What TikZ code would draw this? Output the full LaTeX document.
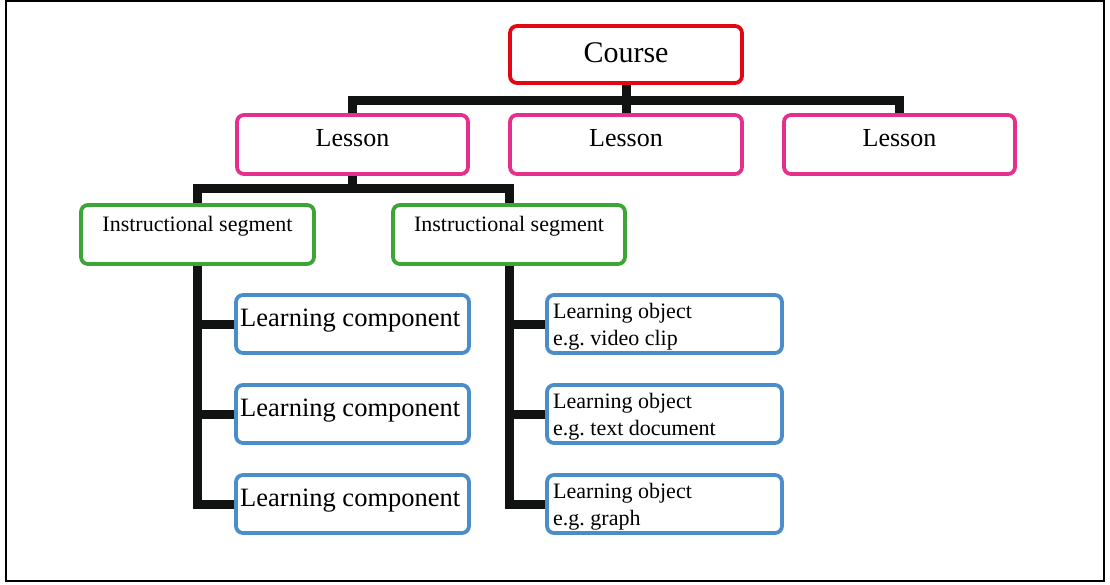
\documentclass[tikz,border=0pt]{standalone}
\usepackage{fontspec}
\setmainfont{Liberation Serif}
\definecolor{coursered}{RGB}{227,6,19}
\definecolor{lessonpink}{RGB}{228,48,140}
\definecolor{seggreen}{RGB}{61,165,53}
\definecolor{compblue}{RGB}{74,141,200}
\definecolor{connblack}{RGB}{17,19,18}
\frenchspacing
\begin{document}
\begin{tikzpicture}[x=1pt,y=-1pt,
  box/.style={rectangle, rounded corners=7pt, line width=3.8pt, fill=white, inner sep=0pt},
  coursebox/.style={box, draw=coursered, minimum width=232pt, minimum height=57pt},
  lessonbox/.style={box, draw=lessonpink, minimum width=231pt, minimum height=59pt},
  segbox/.style={box, draw=seggreen, minimum width=233pt, minimum height=59pt},
  compbox/.style={box, draw=compblue, minimum width=233pt, minimum height=58pt},
  objbox/.style={box, draw=compblue, minimum width=235pt, minimum height=58pt},
  txt/.style={inner sep=0pt, text=black},
  conn/.style={draw=connblack, line width=9pt, line join=miter, line cap=butt}]
\useasboundingbox (0,0) rectangle (1110,585);
\draw[line width=2pt] (6,1.5) rectangle (1104,580.5);

% boxes
\node[coursebox] (course) at (626,54.5) {};
\node[lessonbox] (l1) at (352.5,144.5) {};
\node[lessonbox, minimum width=232pt] (l2) at (626,144.5) {};
\node[lessonbox] (l3) at (899.5,144.5) {};
\node[segbox] (is1) at (197.5,234.5) {};
\node[segbox, minimum width=232pt] (is2) at (509,234.5) {};
\node[compbox] (lc1) at (352.5,324) {};
\node[compbox] (lc2) at (352.5,414) {};
\node[compbox] (lc3) at (352.5,504) {};
\node[objbox] (lo1) at (664.5,324) {};
\node[objbox] (lo2) at (664.5,414) {};
\node[objbox] (lo3) at (664.5,504) {};

% texts
\node[txt, anchor=base, font=\fontsize{30}{36}\selectfont] (tcourse) at (626,63) {Course};
\node[txt, anchor=base, font=\fontsize{26}{32}\selectfont] (tl1) at (352.5,147) {Lesson};
\node[txt, anchor=base, font=\fontsize{26}{32}\selectfont] (tl2) at (626,147) {Lesson};
\node[txt, anchor=base, font=\fontsize{26}{32}\selectfont] (tl3) at (899.5,147) {Lesson};
\node[txt, anchor=base, font=\fontsize{22}{27}\selectfont] (tis1) at (197.5,232) {Instructional segment};
\node[txt, anchor=base, font=\fontsize{22}{27}\selectfont] (tis2) at (509,232) {Instructional segment};
\node[txt, anchor=base west, font=\fontsize{26.5}{32}\selectfont] (tlc1) at (240,326) {Learning component};
\node[txt, anchor=base west, font=\fontsize{26.5}{32}\selectfont] (tlc2) at (240,416) {Learning component};
\node[txt, anchor=base west, font=\fontsize{26.5}{32}\selectfont] (tlc3) at (240,506) {Learning component};
\node[txt, anchor=base west, font=\fontsize{22}{27}\selectfont] (tlo1a) at (553,318) {Learning object};
\node[txt, anchor=base west, font=\fontsize{22}{27}\selectfont] (tlo1b) at (553,345) {e.g. video clip};
\node[txt, anchor=base west, font=\fontsize{22}{27}\selectfont] (tlo2a) at (553,408) {Learning object};
\node[txt, anchor=base west, font=\fontsize{22}{27}\selectfont] (tlo2b) at (553,435) {e.g. text document};
\node[txt, anchor=base west, font=\fontsize{22}{27}\selectfont] (tlo3a) at (553,498) {Learning object};
\node[txt, anchor=base west, font=\fontsize{22}{27}\selectfont] (tlo3b) at (553,525) {e.g. graph};

% connectors
\coordinate (j1) at (626,101);
\draw[conn] (course.south) -- (j1);
\draw[conn] (l1.north) |- (j1) -| (l3.north);
\draw[conn] (j1) -- (l2.north);

\coordinate (j2) at (352.5,189);
\draw[conn] (l1.south) -- (j2);
\draw[conn] (is1.north) |- (j2) -| (is2.north);

\draw[conn] (is1.south) |- (lc3.west);
\draw[conn] (lc1.west) -- (lc1.west -| is1.south);
\draw[conn] (lc2.west) -- (lc2.west -| is1.south);

\draw[conn] (is2.south) |- (lo3.west);
\draw[conn] (lo1.west) -- (lo1.west -| is2.south);
\draw[conn] (lo2.west) -- (lo2.west -| is2.south);
\end{tikzpicture}
\end{document}
